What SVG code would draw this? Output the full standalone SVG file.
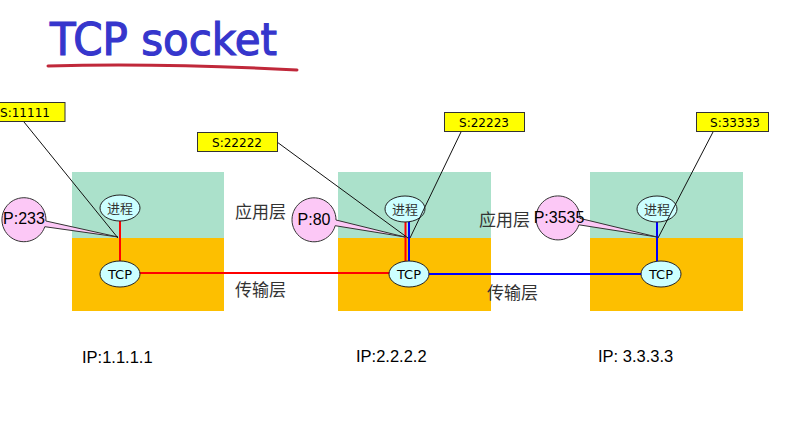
<svg xmlns="http://www.w3.org/2000/svg" width="785" height="441" viewBox="0 0 785 441">
<style>
.app{fill:#abe1cb}
.tr{fill:#fdbf00}
.proc{fill:#ccffff;stroke:#222;stroke-width:1}
.pt{font-family:"Noto Sans CJK SC","Liberation Sans",sans-serif;font-size:13px;fill:#333;text-anchor:middle}
.tt{font-family:"DejaVu Sans","Liberation Sans",sans-serif;font-size:13px;fill:#000;text-anchor:middle}
.lay{font-family:"Noto Sans CJK SC",sans-serif;font-size:17px;fill:#333}
.ip{font-family:"Liberation Sans",sans-serif;font-size:16.5px;fill:#000}
.sl{fill:#ffff00;stroke:#333;stroke-width:1}
.st{font-family:"DejaVu Sans","Liberation Sans",sans-serif;font-size:12px;fill:#000;text-anchor:middle}
.co{fill:#fcc8f6;stroke:#333;stroke-width:1}
.ct{font-family:"Liberation Sans",sans-serif;font-size:16px;fill:#000;text-anchor:middle}
.lead{stroke:#111;stroke-width:1;fill:none}
.red{stroke:#ff0000;stroke-width:2;fill:none}
.blue{stroke:#0000ff;stroke-width:2;fill:none}
</style>

<g id="title">
<text x="50" y="55" font-family="DejaVu Sans, sans-serif" font-size="44" fill="#3636cc" stroke="#3636cc" stroke-width="1.2" textLength="227" lengthAdjust="spacingAndGlyphs">TCP socket</text>
<path d="M48 66 C 120 64, 220 66, 297 70" stroke="#c0283a" stroke-width="3" fill="none" stroke-linecap="round"/>
</g>

<g id="host1">
<rect class="app" x="72" y="172" width="152" height="66"/>
<rect class="tr" x="72" y="238" width="152" height="73"/>
</g>
<g id="host2">
<rect class="app" x="338" y="172" width="153" height="66"/>
<rect class="tr" x="338" y="238" width="153" height="73"/>
</g>
<g id="host3">
<rect class="app" x="590" y="172" width="153" height="66"/>
<rect class="tr" x="590" y="238" width="153" height="73"/>
</g>

<g id="connectors">
<line class="red" x1="120" y1="221" x2="120" y2="262"/>
<line class="red" x1="138" y1="273" x2="391" y2="273"/>
<line class="red" x1="405.5" y1="221" x2="405.5" y2="262"/>
<line class="blue" x1="409" y1="221" x2="409" y2="262"/>
<line class="blue" x1="427" y1="274" x2="643" y2="274"/>
<line class="blue" x1="657" y1="221" x2="657" y2="262"/>
</g>

<g id="proc1"><ellipse class="proc" cx="120" cy="208" rx="20" ry="13"/><text class="pt" x="120" y="213">进程</text></g>
<g id="tcp1"><ellipse class="proc" cx="120" cy="274" rx="20" ry="13"/><text class="tt" x="120" y="279">TCP</text></g>
<g id="proc2"><ellipse class="proc" cx="405" cy="209" rx="20" ry="13"/><text class="pt" x="405" y="214">进程</text></g>
<g id="tcp2"><ellipse class="proc" cx="409" cy="274" rx="20" ry="13"/><text class="tt" x="409" y="279">TCP</text></g>
<g id="proc3"><ellipse class="proc" cx="657" cy="209" rx="20" ry="13"/><text class="pt" x="657" y="214">进程</text></g>
<g id="tcp3"><ellipse class="proc" cx="661" cy="274" rx="20" ry="13"/><text class="tt" x="661" y="279">TCP</text></g>

<g id="port1">
<path class="co" d="M45.9 221 A22 22 0 1 0 44.8 226.7 L118 237 Z"/>
<text class="ct" x="24" y="224">P:233</text>
</g>
<g id="port2">
<path class="co" d="M336 220 A22 22 0 1 0 335.2 225.7 L405 237 Z"/>
<text class="ct" x="314" y="225">P:80</text>
</g>
<g id="port3">
<path class="co" d="M580 218.4 A22 22 0 1 0 578.9 224.8 L657 237 Z"/>
<text class="ct" x="559" y="223">P:3535</text>
</g>

<g id="leaders">
<line class="lead" x1="24" y1="122" x2="118" y2="238"/>
<line class="lead" x1="277" y1="142" x2="408" y2="238"/>
<line class="lead" x1="461" y1="132" x2="410" y2="238"/>
<line class="lead" x1="713" y1="132" x2="658" y2="238"/>
</g>

<g id="sock1"><rect class="sl" x="-15" y="102.5" width="80" height="19"/><text class="st" x="25" y="116.5">S:11111</text></g>
<g id="sock2"><rect class="sl" x="197.5" y="132.5" width="80" height="19"/><text class="st" x="237" y="146.5">S:22222</text></g>
<g id="sock3"><rect class="sl" x="444.5" y="112.5" width="80" height="19"/><text class="st" x="484" y="126.5">S:22223</text></g>
<g id="sock4"><rect class="sl" x="696.5" y="112.5" width="72" height="19"/><text class="st" x="735" y="126.5">S:33333</text></g>

<g id="labels">
<text class="lay" x="235" y="218">应用层</text>
<text class="lay" x="235" y="296">传输层</text>
<text class="lay" x="479" y="226">应用层</text>
<text class="lay" x="487" y="299">传输层</text>
<text class="ip" x="82" y="363">IP:1.1.1.1</text>
<text class="ip" x="356" y="362">IP:2.2.2.2</text>
<text class="ip" x="598" y="362">IP: 3.3.3.3</text>
</g>
</svg>
